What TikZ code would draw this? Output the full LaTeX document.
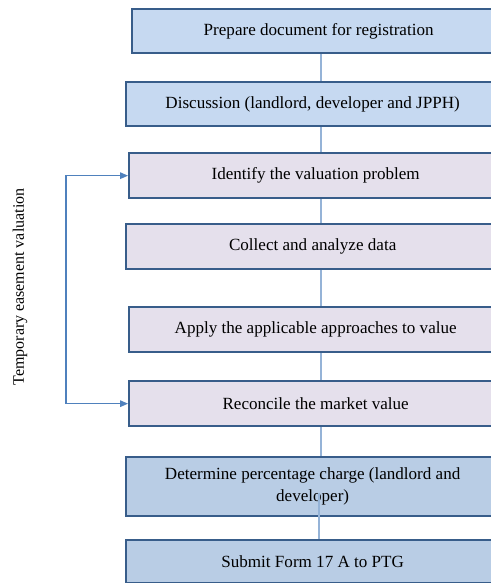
\documentclass[tikz,border=0pt]{standalone}
\usepackage{fontspec}
\setmainfont{Liberation Serif}
\usetikzlibrary{arrows.meta}
\definecolor{boxline}{RGB}{56,93,138}
\definecolor{topfill}{RGB}{198,217,241}
\definecolor{midfill}{RGB}{229,224,236}
\definecolor{lowfill}{RGB}{185,205,229}
\definecolor{linkblue}{RGB}{149,179,215}
\definecolor{loopblue}{RGB}{79,129,189}

\begin{document}
\begin{tikzpicture}[x=0.75pt, y=-0.75pt,
    font=\fontsize{12.8}{16}\selectfont,
    stepbox/.style={draw=boxline, line width=1.5pt, anchor=north west,
      minimum width=280pt, minimum height=33pt, inner sep=2pt, align=center},
    link/.style={draw=linkblue, line width=1pt},
    loopline/.style={draw=loopblue, line width=0.8pt,
      {Triangle[length=6pt,width=5pt]}-{Triangle[length=6pt,width=5pt]}}]
    \useasboundingbox (0,0) rectangle (491,583);

    % Pasos
    \node[stepbox, fill=topfill] (prep) at (131,8) {Prepare document for registration};
    \node[stepbox, fill=topfill] (disc) at (125,81) {Discussion (landlord, developer and JPPH)};
    \node[stepbox, fill=midfill, minimum height=34pt] (iden) at (128,152) {Identify the valuation problem};
    \node[stepbox, fill=midfill, minimum height=34pt] (coll) at (125,223) {Collect and analyze data};
    \node[stepbox, fill=midfill, minimum height=34pt] (appl) at (128,306) {Apply the applicable approaches to value};
    \node[stepbox, fill=midfill, minimum height=34pt] (reco) at (128,380) {Reconcile the market value};
    \node[stepbox, fill=lowfill, minimum height=44pt] (dete) at (125,456) {Determine percentage charge (landlord and\\developer)};
    \node[stepbox, fill=lowfill, minimum height=32pt] (subm) at (125,539) {Submit Form 17 A to PTG};

    % Conectores
    \coordinate (spine) at (321,0);
    \draw[link] (prep.south -| spine) -- (disc.north -| spine);
    \draw[link] (disc.south -| spine) -- (iden.north -| spine);
    \draw[link] (iden.south -| spine) -- (coll.north -| spine);
    \draw[link] (coll.south -| spine) -- (appl.north -| spine);
    \draw[link] (appl.south -| spine) -- (reco.north -| spine);
    \draw[link] (reco.south -| spine) -- (dete.north -| spine);
    \draw[link] ([yshift=18pt]dete.south -| 319,0) -- (subm.north -| 319,0);

    % Bucle de servidumbre
    \node[rotate=90, font=\fontsize{12}{14}\selectfont] (side) at (20,287) {Temporary easement valuation};
    \coordinate (loopx) at (66,0);
    \draw[loopline] (iden.west) -- (iden.west -| loopx) -- (reco.west -| loopx) -- (reco.west);
\end{tikzpicture}
\end{document}
